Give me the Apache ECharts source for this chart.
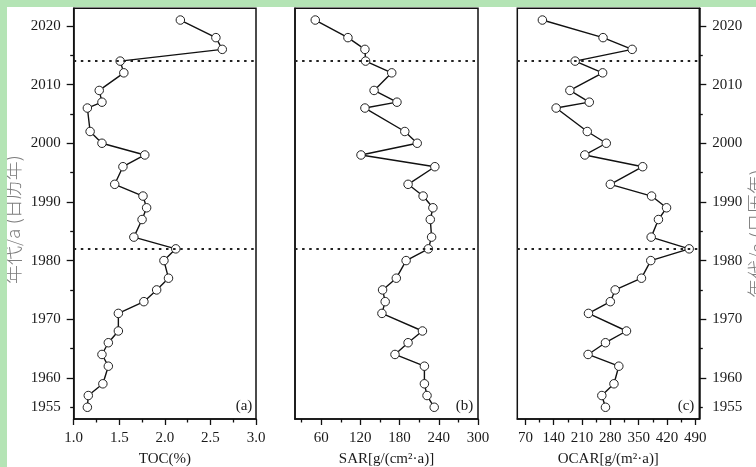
<!DOCTYPE html>
<html><head><meta charset="utf-8">
<script src="https://cdn.jsdelivr.net/npm/echarts@6/dist/echarts.min.js"></script>
<style>html,body{margin:0;padding:0;background:#fff}#c{width:756px;height:467px}</style>
</head><body><div id="c"></div><script>
const years = [2021,2018,2016,2014,2012,2009,2007,2006,2002,2000,1998,1996,1993,1991,1989,1987,1984,1982,1980,1977,1975,1973,1971,1968,1966,1964,1962,1959,1957,1955];
const toc = [2.17,2.56,2.63,1.51,1.55,1.28,1.31,1.15,1.18,1.31,1.78,1.54,1.45,1.76,1.80,1.75,1.66,2.12,1.99,2.04,1.91,1.77,1.49,1.49,1.38,1.31,1.38,1.32,1.16,1.15];
const sar = [51,101,127,128,168,141,176,127,188,207,121,234,193,216,231,227,229,224,190,175,154,158,153,215,193,173,218,218,222,233];
const ocar = [112,262,334,193,261,180,228,146,223,270,217,360,280,382,419,399,381,475,380,357,292,280,226,320,268,225,301,289,259,268];
const dividers = [2014, 1982];

const yearLabels = [1955,1960,1970,1980,1990,2000,2010,2020];
const yearMajor = [1960,1970,1980,1990,2000,2010,2020];
const yearMinor = [1955,1965,1975,1985,1995,2005,2015];
const tocMajor = [1.0,1.5,2.0,2.5,3.0];
const tocMinor = [1.25,1.75,2.25,2.75];
const sarMajor = [60,120,180,240,300];
const sarMinor = [30,90,150,210,270];
const ocarMajor = [70,140,210,280,350,420,490];
const ocarMinor = [105,175,245,315,385,455];

const serif = 'Liberation Serif';
const txt = '#1a1a1a';
const axCol = '#111';

function xMain(gi, min, max, major, name, fmt) {
  return {type:'value', gridIndex:gi, min:min, max:max, position:'bottom',
    name:name, nameLocation:'middle', nameGap:33,
    nameTextStyle:{fontFamily:serif, fontSize:15, color:txt},
    axisLine:{show:true, onZero:false, lineStyle:{color:axCol, width:1.5}},
    axisTick:{show:true, customValues:major, length:6, lineStyle:{color:axCol, width:1.3}},
    axisLabel:{show:true, customValues:major, margin:12, fontFamily:serif, fontSize:15, color:txt, formatter:fmt},
    splitLine:{show:false}};
}
function minorAx(gi, min, max, minor, pos) {
  return {type:'value', gridIndex:gi, min:min, max:max, position:pos,
    axisLine:{show:false},
    axisTick:{show:true, customValues:minor, length:3.5, lineStyle:{color:axCol, width:1.3}},
    axisLabel:{show:false}, splitLine:{show:false}};
}
function yMain(gi, pos, withTicks, gap, pad) {
  const ax = {type:'value', gridIndex:gi, min:1953, max:2023, position:pos,
    axisLine:{show:true, onZero:false, lineStyle:{color:axCol, width:1.5}},
    axisTick:{show:withTicks, customValues:yearMajor, length:7, lineStyle:{color:axCol, width:1.3}},
    axisLabel:{show:withTicks, customValues:yearLabels, margin:13, fontFamily:serif, fontSize:15, color:txt,
      formatter:v=>String(v)},
    splitLine:{show:false}};
  if (gap) {
    ax.name = '年代/a (日历年)';
    ax.nameLocation = 'middle';
    ax.nameRotate = 90;
    ax.nameGap = gap;
    ax.nameTextStyle = {fontFamily:'Noto Sans CJK SC', fontSize:19, fontWeight:300, color:'#7d7d7d', padding:pad};
  }
  return ax;
}
function mkSeries(xi, yi, vals) {
  return {type:'line', xAxisIndex:xi, yAxisIndex:yi,
    data: years.map((y,i)=>[vals[i], y]),
    symbol:'circle', symbolSize:8.5, showSymbol:true,
    lineStyle:{color:'#111', width:1.4},
    itemStyle:{color:'#fff', borderColor:'#222', borderWidth:1},
    markLine:{silent:true, symbol:'none', label:{show:false},
      lineStyle:{color:'#222', type:[2.5,4.6], width:2},
      data: dividers.map(v=>({yAxis:v}))},
    animation:false};
}

const gridBase = {top:8.3, height:410.7, show:true, borderColor:axCol, borderWidth:1.5,
  backgroundColor:'transparent', outerBoundsMode:'none', containLabel:false};
const chart = echarts.init(document.getElementById('c'));
chart.setOption({
  backgroundColor:'#fff',
  animation:false,
  grid:[
    Object.assign({left:73.7, width:182.3}, gridBase),
    Object.assign({left:295, width:183}, gridBase),
    Object.assign({left:517.3, width:182}, gridBase)
  ],
  xAxis:[
    xMain(0, 1, 3, tocMajor, 'TOC(%)', v=>v.toFixed(1)),
    xMain(1, 20, 300, sarMajor, 'SAR[g/(cm²·a)]'),
    xMain(2, 50, 500, ocarMajor, 'OCAR[g/(m²·a)]'),
    minorAx(0, 1, 3, tocMinor, 'bottom'),
    minorAx(1, 20, 300, sarMinor, 'bottom'),
    minorAx(2, 50, 500, ocarMinor, 'bottom')
  ],
  yAxis:[
    yMain(0, 'left', true, 51, [0, 12, 0, 0]),
    yMain(1, 'left', false, 0),
    yMain(2, 'right', true, 48, [0, 40, 0, 0]),
    minorAx(0, 1953, 2023, yearMinor, 'left'),
    minorAx(2, 1953, 2023, yearMinor, 'right')
  ],
  series:[
    mkSeries(0, 0, toc),
    mkSeries(1, 1, sar),
    mkSeries(2, 2, ocar)
  ],
  graphic:[
    {type:'rect', shape:{x:0, y:0, width:756, height:7}, style:{fill:'#b4e4b5'}, z:100},
    {type:'rect', shape:{x:0, y:0, width:7, height:467}, style:{fill:'#b4e4b5'}, z:100},
    {type:'text', right:756-252.3, top:399, style:{text:'(a)', font:'15px "Liberation Serif"', fill:txt}, z:100},
    {type:'text', right:756-473.3, top:399, style:{text:'(b)', font:'15px "Liberation Serif"', fill:txt}, z:100},
    {type:'text', right:756-694.3, top:399, style:{text:'(c)', font:'15px "Liberation Serif"', fill:txt}, z:100}
  ]
});
</script></body></html>
